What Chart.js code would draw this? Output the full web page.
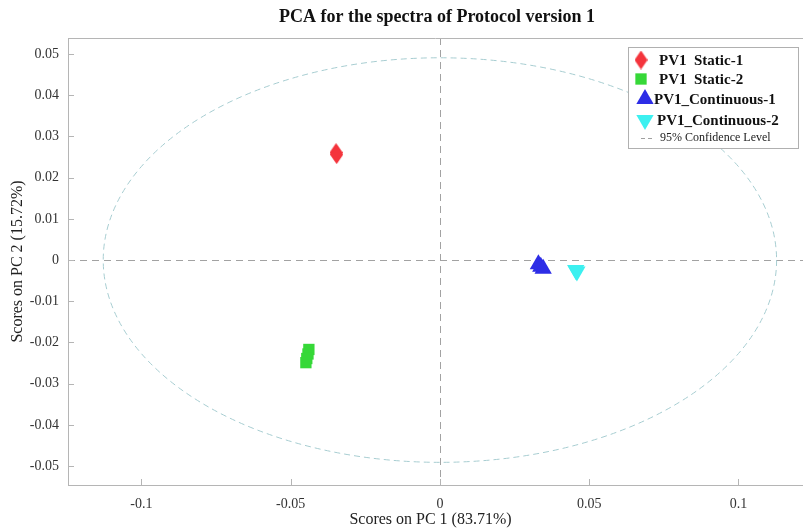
<!DOCTYPE html>
<html>
<head>
<meta charset="utf-8">
<script src="https://cdn.jsdelivr.net/npm/chart.js@4.4.1/dist/chart.umd.min.js"></script>
<style>
  html, body { margin: 0; padding: 0; background: #fff; overflow: hidden; }
  canvas { display: block; }
</style>
</head>
<body>
<canvas id="pcaChart" width="803" height="529"></canvas>
<script>
// PCA scores, PC1 vs PC2
let chartTitle = 'PCA for the spectra of Protocol version 1';
let xTitle = 'Scores on PC 1 (83.71%)';
let yTitle = 'Scores on PC 2 (15.72%)';

let xTicks = [-0.1, -0.05, 0, 0.05, 0.1];
let yTicks = [-0.05, -0.04, -0.03, -0.02, -0.01, 0, 0.01, 0.02, 0.03, 0.04, 0.05];
let xRange = [-0.1246, 0.1183];
let yRange = [-0.0546, 0.0539];

let static1 = [{x: -0.0348, y: 0.0261}, {x: -0.0346, y: 0.0256}];
let static2 = [{x: -0.0439, y: -0.0217}, {x: -0.0442, y: -0.0228}, {x: -0.0446, y: -0.0239}, {x: -0.0449, y: -0.0249}];
let continuous1 = [{x: 0.0330, y: -0.0010}, {x: 0.0338, y: -0.0016}, {x: 0.0346, y: -0.0021}];
let continuous2 = [{x: 0.0455, y: -0.0024}, {x: 0.0459, y: -0.0028}];

// 95% confidence ellipse (semi-axes in score units)
let ellipseCenter = {x: 0, y: 0};
let ellipseSemi = {x: 0.1128, y: 0.0491};
let ellipseLabel = '95% Confidence Level';

const serif = "'Liberation Serif', 'DejaVu Serif', serif";

// tall red diamond marker
function makeDiamond(w, h, color) {
    let c = document.createElement('canvas');
    c.width = w; c.height = h;
    let g = c.getContext('2d');
    g.fillStyle = color;
    g.beginPath();
    g.moveTo(w / 2, 0);
    g.lineTo(w, h / 2);
    g.lineTo(w / 2, h);
    g.lineTo(0, h / 2);
    g.closePath();
    g.fill();
    return c;
}
const diamond = makeDiamond(13, 19, '#f4343c');

const pcaBackground = {
    id: 'pcaBackground',
    beforeDatasetsDraw(chart) {
        const {ctx, chartArea: a, scales: {x, y}} = chart;
        const edge = chart.width;   // frame runs on to the canvas edge
        ctx.save();
        ctx.beginPath();
        ctx.rect(a.left, a.top, edge - a.left, a.bottom - a.top);
        ctx.clip();

        // zero cross-hairs
        ctx.strokeStyle = '#a2a2a2';
        ctx.lineWidth = 1;
        ctx.setLineDash([7, 5]);
        let x0 = Math.round(x.getPixelForValue(0)) + 0.5;
        let y0 = Math.round(y.getPixelForValue(0)) + 0.5;
        ctx.beginPath();
        ctx.moveTo(x0, a.top); ctx.lineTo(x0, a.bottom);
        ctx.moveTo(a.left, y0); ctx.lineTo(edge, y0);
        ctx.stroke();

        // confidence ellipse
        let cx = x.getPixelForValue(ellipseCenter.x);
        let cy = y.getPixelForValue(ellipseCenter.y);
        let rx = Math.abs(x.getPixelForValue(ellipseCenter.x + ellipseSemi.x) - cx);
        let ry = Math.abs(y.getPixelForValue(ellipseCenter.y + ellipseSemi.y) - cy);
        ctx.strokeStyle = '#a7cdd1';
        ctx.setLineDash([6, 4]);
        ctx.beginPath();
        ctx.ellipse(cx, cy, rx, ry, 0, 0, Math.PI * 2);
        ctx.stroke();
        ctx.restore();

        // frame top / bottom edges and inward tick marks
        ctx.save();
        ctx.strokeStyle = '#b5b5b5';
        ctx.lineWidth = 1;
        ctx.beginPath();
        ctx.moveTo(a.left, a.top + 0.5); ctx.lineTo(edge, a.top + 0.5);
        ctx.moveTo(a.right - 1, Math.round(a.bottom) + 0.5); ctx.lineTo(edge, Math.round(a.bottom) + 0.5);
        xTicks.forEach(v => {
            let px = Math.round(x.getPixelForValue(v)) + 0.5;
            ctx.moveTo(px, a.bottom); ctx.lineTo(px, a.bottom - 6);
        });
        yTicks.forEach(v => {
            let py = Math.round(y.getPixelForValue(v)) + 0.5;
            ctx.moveTo(a.left, py); ctx.lineTo(a.left + 6, py);
        });
        ctx.stroke();
        ctx.restore();
    },
    afterDraw(chart) {
        const {ctx, chartArea: a} = chart;
        ctx.save();
        // title
        ctx.fillStyle = '#111';
        ctx.font = 'bold 18px ' + serif;
        ctx.textAlign = 'center';
        ctx.textBaseline = 'middle';
        ctx.fillText(chartTitle, 437, 17);

        // legend box in the upper right corner
        let bx = chart.width - 175, by = a.top + 9, bw = 170, bh = 101;
        ctx.fillStyle = '#fff';
        ctx.fillRect(bx, by, bw, bh);
        ctx.strokeStyle = '#b0b0b0';
        ctx.lineWidth = 1;
        ctx.strokeRect(bx + 0.5, by + 0.5, bw, bh);

        let rows = [13, 32, 52, 73];
        let mx = [13, 13, 17, 17];
        let tx = [31, 31, 26, 29];
        ctx.textAlign = 'left';
        chart.data.datasets.forEach((ds, i) => {
            ctx.fillStyle = ds.backgroundColor;
            ctx.strokeStyle = ds.backgroundColor;
            Chart.helpers.drawPoint(ctx, {
                pointStyle: ds.pointStyle,
                rotation: ds.rotation || 0,
                radius: ds.pointRadius,
                borderWidth: 0
            }, bx + mx[i], by + rows[i]);
            ctx.font = 'bold 15px ' + serif;
            ctx.fillStyle = '#111';
            ctx.fillText(ds.label, bx + tx[i], by + rows[i] + 1);
        });
        // ellipse entry
        ctx.strokeStyle = '#a0a0a0';
        ctx.setLineDash([4, 3]);
        ctx.beginPath();
        ctx.moveTo(bx + 13, by + 91.5); ctx.lineTo(bx + 27, by + 91.5);
        ctx.stroke();
        ctx.setLineDash([]);
        ctx.font = '12px ' + serif;
        ctx.fillStyle = '#222';
        ctx.fillText(ellipseLabel, bx + 32, by + 91);
        ctx.restore();
    }
};

new Chart(document.getElementById('pcaChart'), {
    type: 'scatter',
    data: {
        datasets: [
            {label: 'PV1  Static-1', data: static1, pointStyle: diamond, pointRadius: 9,
             backgroundColor: '#f4343c', borderWidth: 0},
            {label: 'PV1  Static-2', data: static2, pointStyle: 'rect', pointRadius: 8,
             backgroundColor: '#36d838', borderColor: '#36d838', borderWidth: 0},
            {label: 'PV1_Continuous-1', data: continuous1, pointStyle: 'triangle', pointRadius: 10,
             backgroundColor: '#2d2de6', borderColor: '#2d2de6', borderWidth: 0},
            {label: 'PV1_Continuous-2', data: continuous2, pointStyle: 'triangle', rotation: 180, pointRadius: 10,
             backgroundColor: '#3cf0f0', borderColor: '#3cf0f0', borderWidth: 0}
        ]
    },
    options: {
        responsive: false,
        devicePixelRatio: 1,
        animation: false,
        layout: {padding: {top: 38, right: 0, left: 0, bottom: 0}},
        elements: {point: {hoverRadius: 10}},
        plugins: {
            legend: {display: false},
            tooltip: {enabled: false}
        },
        scales: {
            x: {
                type: 'linear',
                min: xRange[0],
                max: xRange[1],
                afterBuildTicks: s => { s.ticks = xTicks.map(v => ({value: v})); },
                afterFit: s => { s.height = 44; },
                grid: {display: false},
                border: {display: true, color: '#b5b5b5'},
                ticks: {
                    padding: 3,
                    color: '#333',
                    font: {family: serif, size: 14},
                    callback: v => String(v)
                },
                title: {
                    display: true,
                    text: xTitle,
                    color: '#222',
                    font: {family: serif, size: 16},
                    padding: {top: 0, bottom: 0}
                }
            },
            y: {
                type: 'linear',
                min: yRange[0],
                max: yRange[1],
                afterBuildTicks: s => { s.ticks = yTicks.map(v => ({value: v})); },
                afterFit: s => { s.width = 68; },
                grid: {display: false},
                border: {display: true, color: '#b5b5b5'},
                ticks: {
                    padding: 1,
                    color: '#333',
                    font: {family: serif, size: 14},
                    callback: v => String(Math.round(v * 100) / 100)
                },
                title: {
                    display: true,
                    text: yTitle,
                    color: '#222',
                    font: {family: serif, size: 16},
                    padding: {top: 8, bottom: 0}
                }
            }
        }
    },
    plugins: [pcaBackground]
});
</script>
</body>
</html>
